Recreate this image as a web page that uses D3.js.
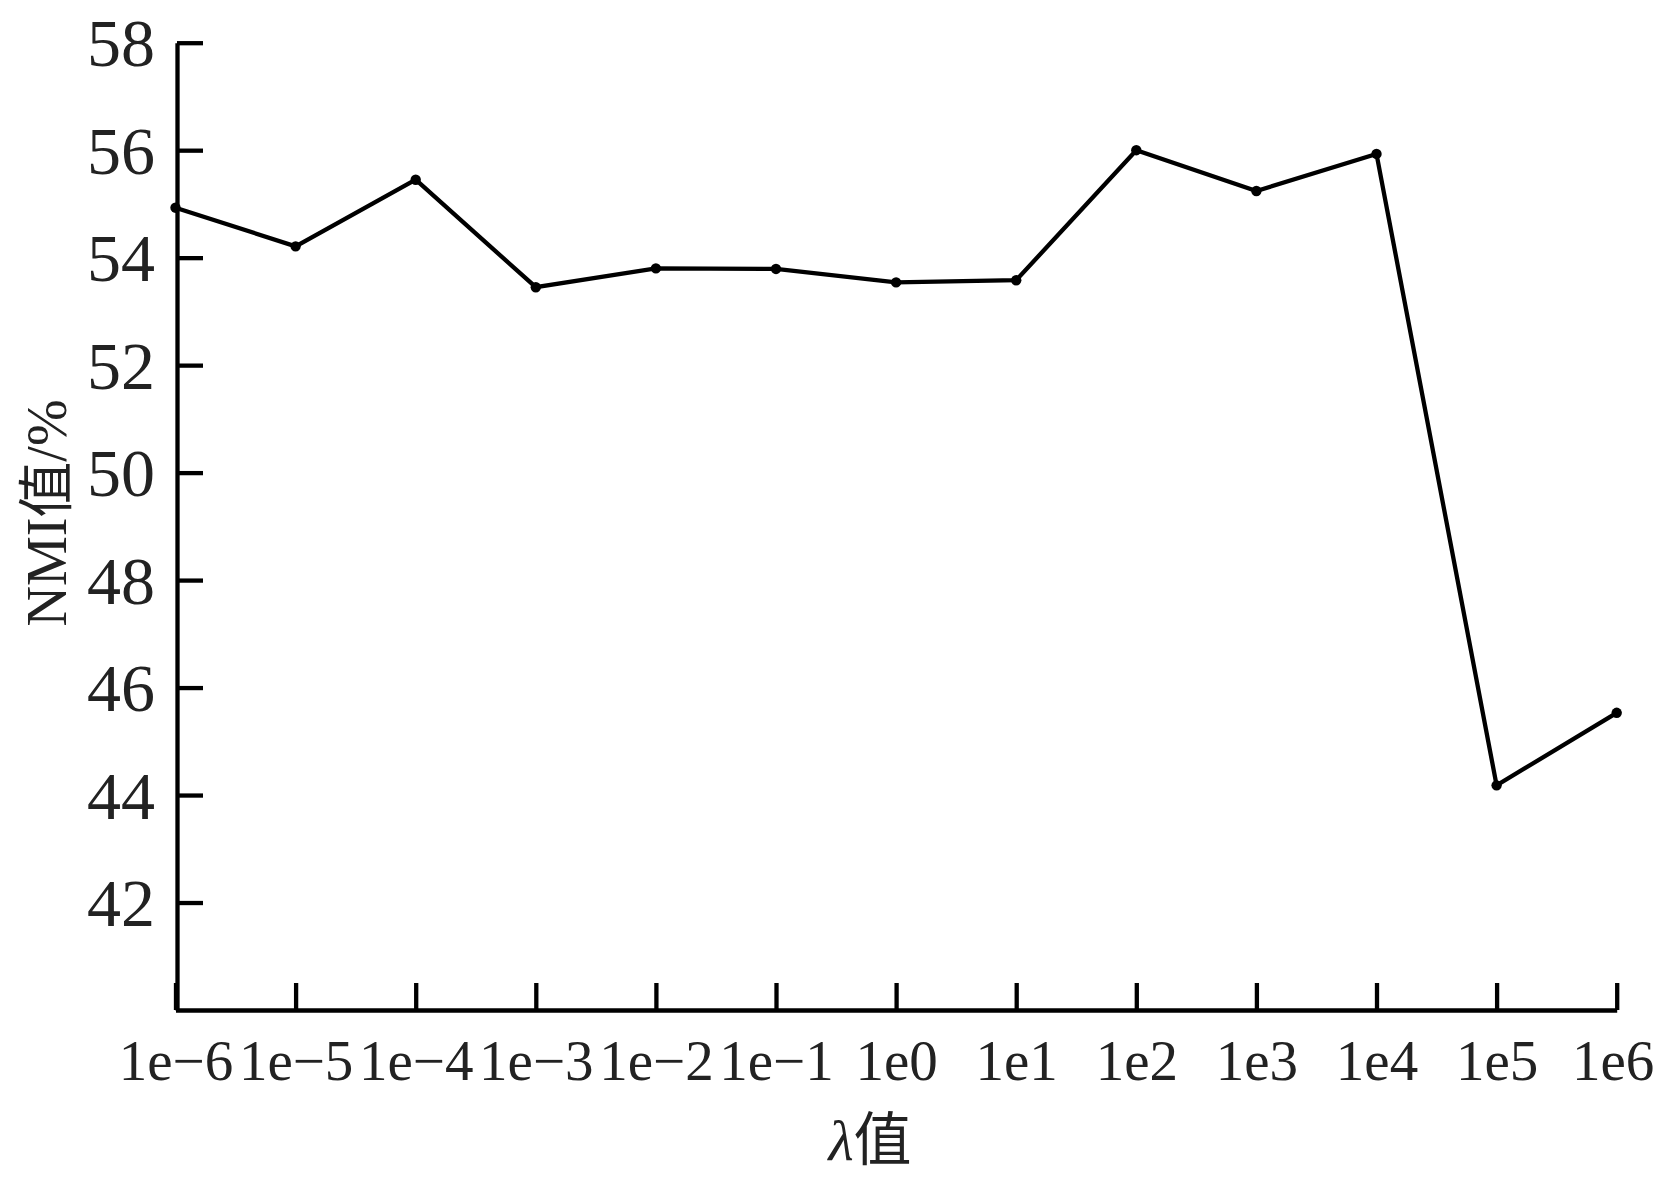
<!DOCTYPE html>
<html>
<head>
<meta charset="utf-8">
<script src="https://cdn.jsdelivr.net/npm/d3@7/dist/d3.min.js"></script>
<style>
  html, body { margin: 0; padding: 0; background: #fff; }
  svg { display: block; }
  svg text { font-family: "Liberation Serif", "Times New Roman", Tinos, "DejaVu Serif", "Noto Sans CJK SC", serif; fill: #222; }
  svg text .cjk { font-family: "Noto Sans CJK SC", "Liberation Serif", serif; }
</style>
</head>
<body>
<svg id="chart" width="1656" height="1180"></svg>
<script>
const categories = ["1e\u22126","1e\u22125","1e\u22124","1e\u22123","1e\u22122","1e\u22121","1e0","1e1","1e2","1e3","1e4","1e5","1e6"];
const nmiValues = [54.93, 54.21, 55.45, 53.45, 53.80, 53.79, 53.54, 53.58, 56.00, 55.24, 55.93, 44.18, 45.53];
const yTicks = [42, 44, 46, 48, 50, 52, 54, 56, 58];
const xTitle = "\u03bb值";

const svg = d3.select("#chart");
const x = d3.scalePoint().domain(categories).range([175.5, 1616.7]).padding(0);
const y = d3.scaleLinear().domain([40, 58]).range([1010, 42.7]);

// Y axis
const yAxis = d3.axisLeft(y).tickValues(yTicks).tickSizeInner(-26).tickSizeOuter(0).tickPadding(22);
const gy = svg.append("g").attr("transform", "translate(177,0)").call(yAxis);
gy.attr("font-family", null);
gy.select(".domain").attr("stroke", "#000").attr("stroke-width", 4.3);
gy.selectAll(".tick line").attr("stroke", "#000").attr("stroke-width", 4.3);
gy.selectAll(".tick text").style("font-size", "68px").attr("dy", "0.34em");

// X axis
const xAxis = d3.axisBottom(x).tickSizeInner(-27).tickSizeOuter(0);
const gx = svg.append("g").attr("transform", "translate(0,1010)").call(xAxis);
gx.attr("font-family", null);
gx.select(".domain").attr("stroke", "#000").attr("stroke-width", 4.3);
gx.selectAll(".tick line").attr("stroke", "#000").attr("stroke-width", 4.3);
gx.selectAll(".tick text").style("font-size", "57px").attr("y", 70).attr("dy", null)
  .attr("dx", (d, i) => i === categories.length - 1 ? -4 : 0);

// Line
const line = d3.line().x((d, i) => x(categories[i])).y(d => y(d));
svg.append("path").datum(nmiValues).attr("d", line)
  .attr("fill", "none").attr("stroke", "#000").attr("stroke-width", 4.3).attr("stroke-linejoin", "miter");

svg.selectAll("circle.pt").data(nmiValues).enter().append("circle")
  .attr("class", "pt")
  .attr("cx", (d, i) => x(categories[i])).attr("cy", d => y(d)).attr("r", 5.2).attr("fill", "#000");

// Axis titles
const xt = svg.append("text").attr("x", 870).attr("y", 1160).attr("text-anchor", "middle").style("font-size", "58px");
xt.append("tspan").style("font-style", "italic").text(xTitle.charAt(0));
xt.append("tspan").attr("class", "cjk").text(xTitle.slice(1));

const yt = svg.append("text").attr("transform", "translate(66,513) rotate(-90)")
  .attr("text-anchor", "middle").style("font-size", "56px");
yt.append("tspan").text("NMI");
yt.append("tspan").attr("class", "cjk").text("值");
yt.append("tspan").text("/%");
</script>
</body>
</html>
